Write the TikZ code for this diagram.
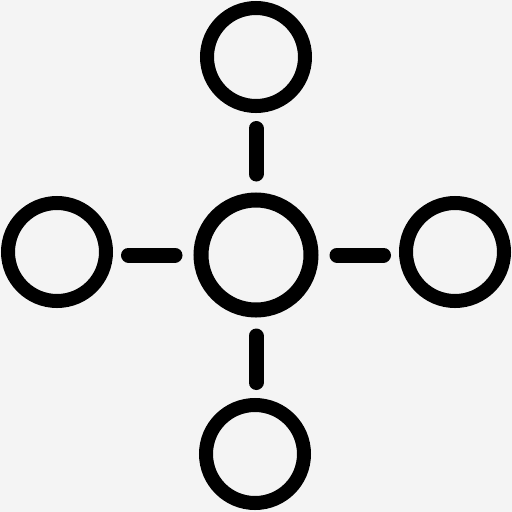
\documentclass[tikz,border=0pt]{standalone}
\definecolor{bgc}{HTML}{F4F4F4}
\begin{document}
\begin{tikzpicture}[x=1pt,y=-1pt,
  ring/.style={circle,draw=black,line width=14pt,minimum size=98pt,inner sep=0pt},
  hub/.style={circle,draw=black,line width=15pt,minimum size=110pt,inner sep=0pt},
  link/.style={draw=black,line width=15pt,line cap=round,shorten <=15.5pt,shorten >=18.5pt}]
\fill[bgc] (0,0) rectangle (512,512);
\useasboundingbox (0,0) rectangle (512,512);
\node[hub] (c) at (256,255) {};
\node[ring] (t) at (256,57) {};
\node[ring] (b) at (255,454) {};
\node[ring] (l) at (57,252) {};
\node[ring] (r) at (455,252) {};
\draw[link] (t.south -| c) -- (c.north);
\draw[link] (b.north -| c) -- (c.south);
\draw[link] (l.east |- c) -- (c.west);
\draw[link] (r.west |- c) -- (c.east);
\end{tikzpicture}
\end{document}
